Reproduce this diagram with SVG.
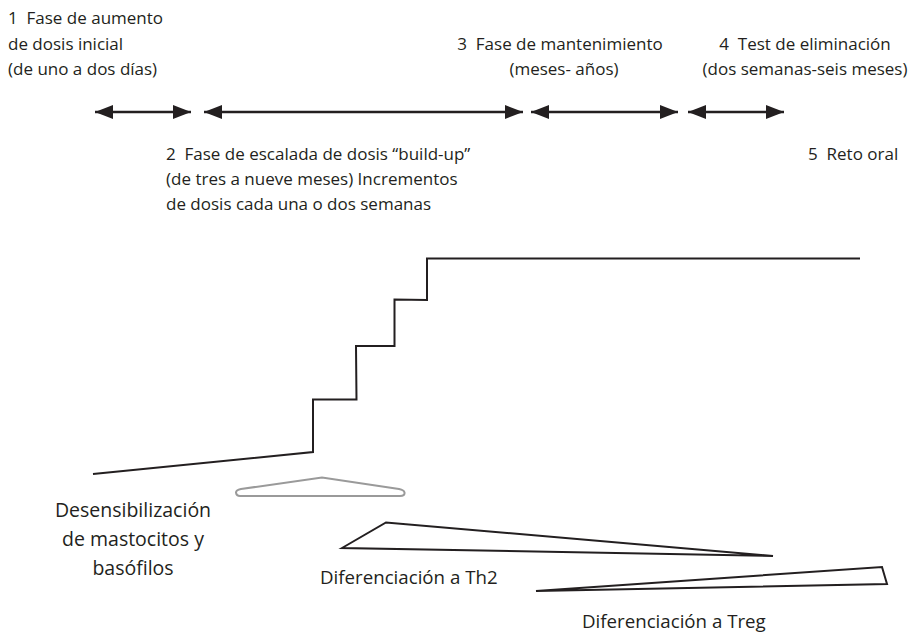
<svg xmlns="http://www.w3.org/2000/svg" width="910" height="632" viewBox="0 0 910 632">
  <defs>
    <marker id="ah" markerUnits="userSpaceOnUse" markerWidth="18" markerHeight="14" refX="18" refY="7" orient="auto-start-reverse" viewBox="0 0 18 14">
      <path d="M0,0 L18,7 L0,14 Z" fill="#231f20"/>
    </marker>
  </defs>
  <style>
    text { font-family: "Open Sans", "Liberation Sans", sans-serif; fill: #231f20; white-space: pre; }
    .t { font-size: 17px; }
    .d { font-size: 19.5px; }
    .b { font-size: 18.7px; }
    .arr { stroke: #231f20; stroke-width: 2.5; fill: none; marker-start: url(#ah); marker-end: url(#ah); }
    .ln { stroke: #231f20; stroke-width: 2; fill: none; stroke-linejoin: miter; }
  </style>
  <rect width="910" height="632" fill="#ffffff"/>

  <g id="phase1">
    <text class="t" x="8" y="24" xml:space="preserve">1  Fase de aumento</text>
    <text class="t" x="8" y="49.5">de dosis inicial</text>
    <text class="t" x="8" y="75">(de uno a dos días)</text>
  </g>
  <g id="phase2">
    <text class="t" x="166" y="160" xml:space="preserve">2  Fase de escalada de dosis “build-up”</text>
    <text class="t" x="166" y="185">(de tres a nueve meses) Incrementos</text>
    <text class="t" x="166" y="210">de dosis cada una o dos semanas</text>
  </g>
  <g id="phase3">
    <text class="t" x="560" y="49.5" text-anchor="middle" xml:space="preserve">3  Fase de mantenimiento</text>
    <text class="t" x="564" y="75" text-anchor="middle">(meses- años)</text>
  </g>
  <g id="phase4">
    <text class="t" x="805" y="49.5" text-anchor="middle" xml:space="preserve">4  Test de eliminación</text>
    <text class="t" x="805" y="75" text-anchor="middle">(dos semanas-seis meses)</text>
  </g>
  <g id="phase5">
    <text class="t" x="808" y="160" xml:space="preserve">5  Reto oral</text>
  </g>

  <g id="connectors">
    <line class="arr" x1="95" y1="112" x2="191" y2="112"/>
    <line class="arr" x1="204" y1="112" x2="523" y2="112"/>
    <line class="arr" x1="531" y1="112" x2="678" y2="112"/>
    <line class="arr" x1="688" y1="112" x2="784" y2="112"/>
  </g>

  <g id="dose-curve">
    <polyline class="ln" points="93,474 313,452 313,399.5 356.5,399.5 356,346 394.5,346 394.5,299.5 427,300 427,258.5 860,258.5"/>
  </g>

  <g id="desensitization">
    <path d="M240,496 H400 Q405,496 404.5,492.5 Q404,490 399,489 L322,477.5 L241,489 Q236,490 236,492.5 Q236.5,496 240,496 Z" fill="none" stroke="#9a9a9a" stroke-width="2"/>
    <text class="d" x="133" y="517" text-anchor="middle">Desensibilización</text>
    <text class="d" x="133" y="546" text-anchor="middle">de mastocitos y</text>
    <text class="d" x="133" y="575" text-anchor="middle">basófilos</text>
  </g>

  <g id="th2">
    <polygon class="ln" points="342,548 386,522.5 773,556"/>
    <text class="b" x="320" y="584">Diferenciación a Th2</text>
  </g>

  <g id="treg">
    <polygon class="ln" points="536,591 882,567 887,584"/>
    <text class="b" x="582" y="628">Diferenciación a Treg</text>
  </g>
</svg>
